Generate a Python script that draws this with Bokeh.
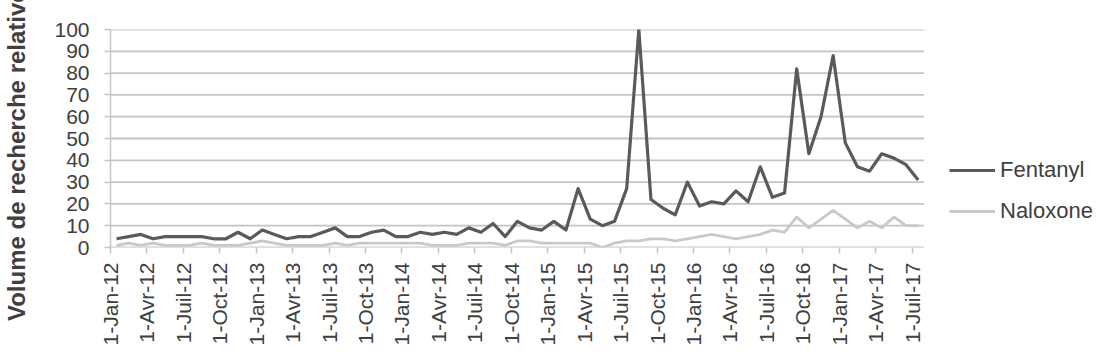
from math import pi
from bokeh.plotting import figure
from bokeh.models import FixedTicker, Range1d, Legend, LegendItem, ColumnDataSource
from bokeh.embed import file_html
from bokeh.resources import INLINE

# Monthly categories Jan-2012 .. Jul-2017
months = [f"{y}-{m:02d}" for y in range(2012, 2018) for m in range(1, 13)][:67]

fentanyl = [4, 5, 6, 4, 5, 5, 5, 5, 4, 4,
            7, 4, 8, 6, 4, 5, 5, 7, 9, 5,
            5, 7, 8, 5, 5, 7, 6, 7, 6, 9,
            7, 11, 5, 12, 9, 8, 12, 8, 27, 13,
            10, 12, 27, 100, 22, 18, 15, 30, 19, 21,
            20, 26, 21, 37, 23, 25, 82, 43, 60, 88,
            48, 37, 35, 43, 41, 38, 31]

naloxone = [1, 2, 1, 2, 1, 1, 1, 2, 1, 1,
            1, 2, 3, 2, 1, 1, 1, 1, 2, 1,
            2, 2, 2, 2, 2, 2, 1, 1, 1, 2,
            2, 2, 1, 3, 3, 2, 2, 2, 2, 2,
            0, 2, 3, 3, 4, 4, 3, 4, 5, 6,
            5, 4, 5, 6, 8, 7, 14, 9, 13, 17,
            13, 9, 12, 9, 14, 10, 10]

tick_labels = ["1-Jan-12", "1-Avr-12", "1-Juil-12", "1-Oct-12",
               "1-Jan-13", "1-Avr-13", "1-Juil-13", "1-Oct-13",
               "1-Jan-14", "1-Avr-14", "1-Juil-14", "1-Oct-14",
               "1-Jan-15", "1-Avr-15", "1-Juil-15", "1-Oct-15",
               "1-Jan-16", "1-Avr-16", "1-Juil-16", "1-Oct-16",
               "1-Jan-17", "1-Avr-17", "1-Juil-17"]

y_ticks = [0, 10, 20, 30, 40, 50, 60, 70, 80, 90, 100]

y_title = "Volume de recherche relative"

FONT = "Liberation Sans"
TXT = "#404040"
GRID = "#c4c4c4"

n = len(months)
# category centres sit between tick marks (Excel-like category axis)
xpos = [i + 0.5 for i in range(n)]
tick_pos = [i for i in range(0, n, 3)]

src = ColumnDataSource(dict(x=xpos, month=months, fentanyl=fentanyl, naloxone=naloxone))

# frame spans to the right edge so the legend can sit inside it;
# grid lines and x-axis line are drawn only over the data span.
LEFT, RIGHT_PLOT = 106, 923
x_end = n * (1111 - LEFT) / (RIGHT_PLOT - LEFT)

p = figure(width=1111, height=353, output_backend="svg", toolbar_location=None,
           x_range=Range1d(0, x_end), y_range=Range1d(0, 100),
           min_border_left=LEFT, min_border_right=0, min_border_top=29, min_border_bottom=106)
p.outline_line_color = None
p.background_fill_color = "white"
p.border_fill_color = "white"

# horizontal grid lines over the category span
p.segment(x0=[0] * len(y_ticks), x1=[n] * len(y_ticks), y0=y_ticks, y1=y_ticks,
          line_color=GRID, line_width=1.8)

r_n = p.line("x", "naloxone", source=src, line_color="#c9c9c9", line_width=2.8, line_join="round")
r_f = p.line("x", "fentanyl", source=src, line_color="#5a5a5a", line_width=3.2, line_join="round")

# x axis
p.xaxis.ticker = FixedTicker(ticks=tick_pos)
p.xaxis.major_label_overrides = {t: lab for t, lab in zip(tick_pos, tick_labels)}
p.xaxis.major_label_orientation = pi / 2
p.xaxis.minor_tick_line_color = None
p.xaxis.major_tick_out = 6
p.xaxis.major_tick_in = 0
p.xaxis.major_label_standoff = 9
p.xaxis.axis_line_color = None
p.xaxis.major_tick_line_color = GRID
p.xaxis.major_tick_line_width = 1.5
p.xaxis.major_label_text_font = FONT
p.xaxis.major_label_text_font_size = "21px"
p.xaxis.major_label_text_color = TXT

# y axis
p.yaxis.ticker = FixedTicker(ticks=y_ticks)
p.yaxis.minor_tick_line_color = None
p.yaxis.major_tick_out = 6
p.yaxis.major_tick_in = 0
p.yaxis.major_label_standoff = 15
p.yaxis.axis_line_color = GRID
p.yaxis.axis_line_width = 1.5
p.yaxis.major_tick_line_color = GRID
p.yaxis.major_tick_line_width = 1.5
p.yaxis.major_label_text_font = FONT
p.yaxis.major_label_text_font_size = "21px"
p.yaxis.major_label_text_color = TXT
# trailing no-break spaces shift the (centred) title down, as in the original
p.yaxis.axis_label = y_title + "\u00a0" * 5
p.yaxis.axis_label_standoff = 21
p.yaxis.axis_label_text_font = FONT
p.yaxis.axis_label_text_font_size = "24px"
p.yaxis.axis_label_text_font_style = "bold"
p.yaxis.axis_label_text_color = TXT

p.xgrid.grid_line_color = None
p.ygrid.grid_line_color = None

legend = Legend(items=[LegendItem(label="Fentanyl", renderers=[r_f]),
                       LegendItem(label="Naloxone", renderers=[r_n])],
                location=(839, 21), orientation="vertical",
                padding=0, margin=0, border_line_color=None, background_fill_alpha=0,
                glyph_width=46, glyph_height=30, label_height=30, label_standoff=5, spacing=11,
                label_text_font=FONT, label_text_font_size="22px", label_text_color=TXT)
p.add_layout(legend)

open("out.html", "w").write(file_html(p, INLINE))
